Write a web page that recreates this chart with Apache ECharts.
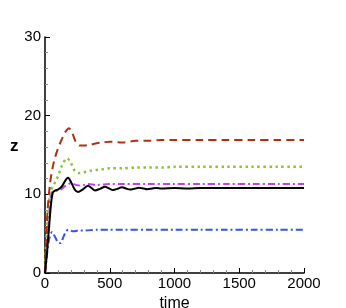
<!DOCTYPE html>
<html><head><meta charset="utf-8">
<script src="https://cdn.jsdelivr.net/npm/echarts@6/dist/echarts.min.js"></script>
<style>html,body{margin:0;padding:0;background:#fff}#c{width:346px;height:308px}</style>
</head><body><div id="c"></div>
<script>
var xTicks = [0, 500, 1000, 1500, 2000];
var yTicks = [0, 10, 20, 30];

var blackT = [0,15,30,45,60,80,100,130,155,178,200,230,255,290,332,360,386,425,463,495,525,560,594,625,656,690,725,760,790,830,860,900,1000,1100,1200,1300,1400,1500,1600,1700,1800,1900,2000];
var blackZ = [0,2.5,5.5,8.5,10.2,10.5,10.6,11.0,11.7,12.1,11.6,10.6,10.3,10.6,11.1,10.8,10.5,10.7,10.95,10.75,10.55,10.7,10.9,10.75,10.6,10.7,10.85,10.75,10.65,10.75,10.8,10.75,10.8,10.75,10.8,10.8,10.8,10.8,10.8,10.8,10.8,10.8,10.8];

var redT = [0,10,20,40,60,80,100,130,160,185,210,240,270,300,350,400,450,500,600,700,800,900,1000,1200,1400,1600,1800,2000];
var redZ = [0,4,8,11.5,13.5,14.8,15.8,17,18,18.4,17.8,16.6,16.2,16.2,16.3,16.5,16.6,16.7,16.6,16.8,16.8,16.9,16.9,16.9,16.9,16.9,16.9,16.9];

var greenT = [0,10,20,40,60,80,100,130,170,200,230,260,300,350,400,450,500,600,700,800,900,1000,1200,1400,1600,1800,2000];
var greenZ = [0,4,7.5,10.2,11,11.6,12.3,13.6,14.6,14,13,12.7,12.8,13.0,13.1,13.2,13.3,13.3,13.4,13.4,13.4,13.5,13.5,13.5,13.5,13.5,13.5];

var magentaT = [0,15,30,50,80,120,160,200,240,280,330,400,500,600,800,1000,1200,1400,1600,1800,2000];
var magentaZ = [0,3,7,10.2,10.4,10.6,11.1,11.4,11.2,11.1,11.3,11.2,11.3,11.3,11.3,11.3,11.3,11.3,11.3,11.3,11.3];

var blueT = [0,10,20,35,55,80,100,120,140,160,180,220,260,300,400,500,600,800,1000,1200,1400,1600,1800,2000];
var blueZ = [0,1.5,3,4.5,5.2,4.5,3.9,3.8,4.5,5.2,5.5,5.3,5.4,5.4,5.5,5.5,5.5,5.5,5.5,5.5,5.5,5.5,5.5,5.5];

function pairs(t, z) { return t.map(function (v, i) { return [v, z[i]]; }); }

var chart = echarts.init(document.getElementById('c'));
var font = 'Liberation Sans, Arial, sans-serif';
chart.setOption({
  animation: false,
  grid: { left: 45, right: 42, top: 37, bottom: 35, outerBoundsMode: 'none', containLabel: false },
  xAxis: {
    type: 'value', min: xTicks[0], max: xTicks[xTicks.length - 1], interval: 500,
    name: 'time', nameLocation: 'middle', nameGap: 19,
    nameTextStyle: { color: '#000', fontSize: 16, fontFamily: font },
    axisLine: { lineStyle: { color: '#000', width: 1.5 } },
    axisTick: { inside: true, length: 5, lineStyle: { color: '#000' } },
    minorTick: { show: true, splitNumber: 5, length: 3, lineStyle: { color: '#888' } },
    axisLabel: { color: '#000', fontSize: 15, fontFamily: font, margin: 3,
      formatter: function (v) { return String(v); } },
    splitLine: { show: false }
  },
  yAxis: {
    type: 'value', min: yTicks[0], max: yTicks[yTicks.length - 1], interval: 10,
    name: 'z', nameLocation: 'middle', nameGap: 18, nameRotate: 0,
    nameTextStyle: { color: '#000', fontSize: 17, fontWeight: 'bold', fontFamily: font,
      verticalAlign: 'bottom' },
    axisLine: { show: true, lineStyle: { color: '#000', width: 1.5 } },
    axisTick: { show: true, inside: true, length: 5, lineStyle: { color: '#000' } },
    minorTick: { show: true, splitNumber: 5, length: 3, lineStyle: { color: '#888' } },
    axisLabel: { color: '#000', fontSize: 15, fontFamily: font, margin: 4,
      formatter: function (v) { return String(v); } },
    splitLine: { show: false }
  },
  series: [
    { type: 'line', data: pairs(blueT, blueZ), showSymbol: false, smooth: 0.3,
      lineStyle: { color: '#3a50e8', width: 2, type: [7, 3, 2, 3] } },
    { type: 'line', data: pairs(magentaT, magentaZ), showSymbol: false, smooth: 0.3,
      lineStyle: { color: '#c040f0', width: 2, type: [7, 3, 2, 3] } },
    { type: 'line', data: pairs(greenT, greenZ), showSymbol: false, smooth: 0.3,
      lineStyle: { color: '#90c040', width: 2.5, type: [2.5, 3.5] } },
    { type: 'line', data: pairs(redT, redZ), showSymbol: false, smooth: 0.3,
      lineStyle: { color: '#b03010', width: 2, type: [8, 5] } },
    { type: 'line', data: pairs(blackT, blackZ), showSymbol: false, smooth: 0.3,
      lineStyle: { color: '#000', width: 2 } }
  ]
});
</script></body></html>
